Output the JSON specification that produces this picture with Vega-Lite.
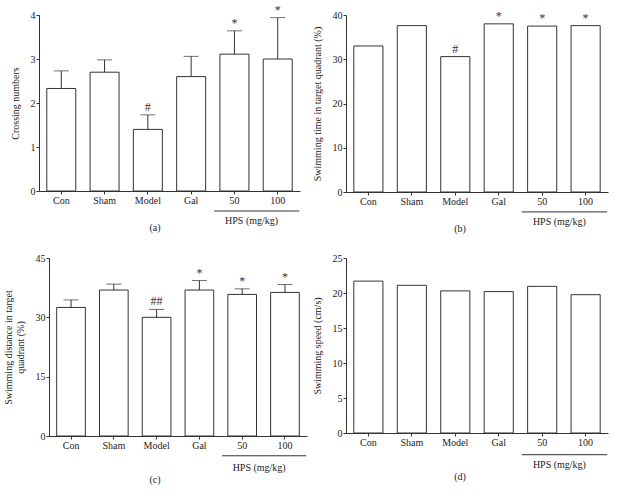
{
  "$schema": "https://vega.github.io/schema/vega-lite/v6.json",
  "background": "white",
  "padding": {"left": 3, "top": 3, "right": 3, "bottom": 3},
  "columns": 2,
  "spacing": {"row": 18, "column": 5},
  "config": {
    "font": "Liberation Serif",
    "view": {"stroke": null},
    "axis": {
      "domainColor": "#333",
      "tickColor": "#333",
      "labelColor": "#222",
      "titleColor": "#222",
      "labelFont": "Liberation Serif",
      "titleFont": "Liberation Serif",
      "labelFontSize": 10,
      "titleFontSize": 10,
      "titleFontWeight": "normal",
      "tickSize": 3,
      "labelPadding": 1,
      "labelOverlap": false,
      "grid": false
    },
    "axisY": {"titlePadding": 10},
    "title": {"font": "Liberation Serif", "fontSize": 10, "fontWeight": "normal", "color": "#222", "orient": "bottom", "anchor": "middle", "frame": "bounds", "offset": -3}
  },
  "datasets": {
    "a": [
      {"group": "Con", "value": 2.33, "upper": 2.73, "sig": ""},
      {"group": "Sham", "value": 2.70, "upper": 2.98, "sig": ""},
      {"group": "Model", "value": 1.40, "upper": 1.73, "sig": "#"},
      {"group": "Gal", "value": 2.60, "upper": 3.06, "sig": ""},
      {"group": "50", "value": 3.11, "upper": 3.64, "sig": "*"},
      {"group": "100", "value": 3.00, "upper": 3.94, "sig": "*"}
    ],
    "b": [
      {"group": "Con", "value": 33.0, "sig": ""},
      {"group": "Sham", "value": 37.6, "sig": ""},
      {"group": "Model", "value": 30.6, "sig": "#"},
      {"group": "Gal", "value": 38.0, "sig": "*"},
      {"group": "50", "value": 37.5, "sig": "*"},
      {"group": "100", "value": 37.6, "sig": "*"}
    ],
    "c": [
      {"group": "Con", "value": 32.5, "upper": 34.4, "sig": ""},
      {"group": "Sham", "value": 36.9, "upper": 38.4, "sig": ""},
      {"group": "Model", "value": 30.0, "upper": 32.0, "sig": "##"},
      {"group": "Gal", "value": 36.9, "upper": 39.3, "sig": "*"},
      {"group": "50", "value": 35.8, "upper": 37.2, "sig": "*"},
      {"group": "100", "value": 36.3, "upper": 38.3, "sig": "*"}
    ],
    "d": [
      {"group": "Con", "value": 21.7},
      {"group": "Sham", "value": 21.1},
      {"group": "Model", "value": 20.3},
      {"group": "Gal", "value": 20.2},
      {"group": "50", "value": 20.95},
      {"group": "100", "value": 19.76}
    ],
    "hps": [{"from": "50", "to": "100", "label": "HPS (mg/kg)"}]
  },
  "concat": [
    {
      "title": "(a)",
      "width": 261,
      "height": 176,
      "layer": [
        {
          "data": {"name": "a"},
          "mark": {"type": "bar", "fill": "white", "stroke": "#333", "strokeWidth": 1},
          "encoding": {
            "x": {"field": "group", "type": "nominal", "sort": null, "scale": {"domain": ["Con", "Sham", "Model", "Gal", "50", "100"], "paddingInner": 0.33, "paddingOuter": 0.18}, "axis": {"title": null, "labelAngle": 0}},
            "y": {"field": "value", "type": "quantitative", "scale": {"domain": [0, 4], "nice": false}, "axis": {"title": "Crossing numbers", "values": [0, 1, 2, 3, 4]}}
          }
        },
        {
          "data": {"name": "a"},
          "mark": {"type": "rule", "color": "#333"},
          "encoding": {
            "x": {"field": "group", "type": "nominal", "sort": null},
            "y": {"field": "value", "type": "quantitative"},
            "y2": {"field": "upper"}
          }
        },
        {
          "data": {"name": "a"},
          "mark": {"type": "tick", "color": "#333", "orient": "horizontal", "size": 15, "thickness": 1},
          "encoding": {
            "x": {"field": "group", "type": "nominal", "sort": null},
            "y": {"field": "upper", "type": "quantitative"}
          }
        },
        {
          "data": {"name": "a"},
          "mark": {"type": "text", "baseline": "bottom", "dy": -1, "fontSize": 12, "fill": "#333"},
          "encoding": {
            "x": {"field": "group", "type": "nominal", "sort": null},
            "y": {"field": "upper", "type": "quantitative"},
            "text": {"field": "sig"}
          }
        },
        {
          "data": {"name": "hps"},
          "mark": {"type": "rule", "color": "#333"},
          "encoding": {
            "x": {"field": "from", "type": "nominal", "sort": null, "bandPosition": -0.2},
            "x2": {"field": "to", "bandPosition": 1.24},
            "y": {"datum": -0.455, "type": "quantitative"}
          }
        },
        {
          "data": {"name": "hps"},
          "mark": {"type": "text", "baseline": "middle", "fontSize": 10, "fill": "#222"},
          "encoding": {
            "x": {"field": "to", "type": "nominal", "sort": null, "bandPosition": -0.4},
            "y": {"datum": -0.68, "type": "quantitative"},
            "text": {"field": "label"}
          }
        }
      ]
    },
    {
      "title": "(b)",
      "width": 262,
      "height": 177,
      "layer": [
        {
          "data": {"name": "b"},
          "mark": {"type": "bar", "fill": "white", "stroke": "#333", "strokeWidth": 1},
          "encoding": {
            "x": {"field": "group", "type": "nominal", "sort": null, "scale": {"domain": ["Con", "Sham", "Model", "Gal", "50", "100"], "paddingInner": 0.33, "paddingOuter": 0.18}, "axis": {"title": null, "labelAngle": 0}},
            "y": {"field": "value", "type": "quantitative", "scale": {"domain": [0, 40], "nice": false}, "axis": {"title": "Swimming time in target quadrant (%)", "values": [0, 10, 20, 30, 40]}}
          }
        },
        {
          "data": {"name": "b"},
          "mark": {"type": "text", "baseline": "bottom", "dy": -1, "fontSize": 12, "fill": "#333"},
          "encoding": {
            "x": {"field": "group", "type": "nominal", "sort": null},
            "y": {"field": "value", "type": "quantitative"},
            "text": {"field": "sig"}
          }
        },
        {
          "data": {"name": "hps"},
          "mark": {"type": "rule", "color": "#333"},
          "encoding": {
            "x": {"field": "from", "type": "nominal", "sort": null, "bandPosition": -0.2},
            "x2": {"field": "to", "bandPosition": 1.24},
            "y": {"datum": -4.5, "type": "quantitative"}
          }
        },
        {
          "data": {"name": "hps"},
          "mark": {"type": "text", "baseline": "middle", "fontSize": 10, "fill": "#222"},
          "encoding": {
            "x": {"field": "to", "type": "nominal", "sort": null, "bandPosition": -0.4},
            "y": {"datum": -6.85, "type": "quantitative"},
            "text": {"field": "label"}
          }
        }
      ]
    },
    {
      "title": {"text": "(c)", "offset": 2},
      "width": 268,
      "height": 178,
      "layer": [
        {
          "data": {"name": "c"},
          "mark": {"type": "bar", "fill": "white", "stroke": "#333", "strokeWidth": 1},
          "encoding": {
            "x": {"field": "group", "type": "nominal", "sort": null, "scale": {"domain": ["Con", "Sham", "Model", "Gal", "50", "100"], "range": [10, 268], "paddingInner": 0.33, "paddingOuter": 0.18}, "axis": {"title": null, "labelAngle": 0}},
            "y": {"field": "value", "type": "quantitative", "scale": {"domain": [0, 45], "nice": false}, "axis": {"title": ["Swimming distance in target", "quadrant (%)"], "values": [0, 15, 30, 45], "offset": -10}}
          }
        },
        {
          "data": {"name": "c"},
          "mark": {"type": "rule", "color": "#333"},
          "encoding": {
            "x": {"field": "group", "type": "nominal", "sort": null},
            "y": {"field": "value", "type": "quantitative"},
            "y2": {"field": "upper"}
          }
        },
        {
          "data": {"name": "c"},
          "mark": {"type": "tick", "color": "#333", "orient": "horizontal", "size": 15, "thickness": 1},
          "encoding": {
            "x": {"field": "group", "type": "nominal", "sort": null},
            "y": {"field": "upper", "type": "quantitative"}
          }
        },
        {
          "data": {"name": "c"},
          "mark": {"type": "text", "baseline": "bottom", "dy": -1, "fontSize": 12, "fill": "#333"},
          "encoding": {
            "x": {"field": "group", "type": "nominal", "sort": null},
            "y": {"field": "upper", "type": "quantitative"},
            "text": {"field": "sig"}
          }
        },
        {
          "data": {"name": "hps"},
          "mark": {"type": "rule", "color": "#333"},
          "encoding": {
            "x": {"field": "from", "type": "nominal", "sort": null, "bandPosition": -0.2},
            "x2": {"field": "to", "bandPosition": 1.24},
            "y": {"datum": -5.0, "type": "quantitative"}
          }
        },
        {
          "data": {"name": "hps"},
          "mark": {"type": "text", "baseline": "middle", "fontSize": 10, "fill": "#222"},
          "encoding": {
            "x": {"field": "to", "type": "nominal", "sort": null, "bandPosition": -0.4},
            "y": {"datum": -8.0, "type": "quantitative"},
            "text": {"field": "label"}
          }
        }
      ]
    },
    {
      "title": {"text": "(d)", "offset": 2},
      "width": 262,
      "height": 175,
      "layer": [
        {
          "data": {"name": "d"},
          "mark": {"type": "bar", "fill": "white", "stroke": "#333", "strokeWidth": 1},
          "encoding": {
            "x": {"field": "group", "type": "nominal", "sort": null, "scale": {"domain": ["Con", "Sham", "Model", "Gal", "50", "100"], "paddingInner": 0.33, "paddingOuter": 0.18}, "axis": {"title": null, "labelAngle": 0}},
            "y": {"field": "value", "type": "quantitative", "scale": {"domain": [0, 25], "nice": false}, "axis": {"title": "Swimming speed (cm/s)", "values": [0, 5, 10, 15, 20, 25], "tickCount": 6}}
          }
        },
        {
          "data": {"name": "hps"},
          "mark": {"type": "rule", "color": "#333"},
          "encoding": {
            "x": {"field": "from", "type": "nominal", "sort": null, "bandPosition": -0.2},
            "x2": {"field": "to", "bandPosition": 1.24},
            "y": {"datum": -3.1, "type": "quantitative", "scale": {"domain": [0, 25], "nice": false}, "axis": {"title": "Swimming speed (cm/s)", "values": [0, 5, 10, 15, 20, 25], "tickCount": 6}}
          }
        },
        {
          "data": {"name": "hps"},
          "mark": {"type": "text", "baseline": "middle", "fontSize": 10, "fill": "#222"},
          "encoding": {
            "x": {"field": "to", "type": "nominal", "sort": null, "bandPosition": -0.4},
            "y": {"datum": -4.57, "type": "quantitative", "scale": {"domain": [0, 25], "nice": false}, "axis": {"title": "Swimming speed (cm/s)", "values": [0, 5, 10, 15, 20, 25], "tickCount": 6}},
            "text": {"field": "label"}
          }
        }
      ]
    }
  ]
}
